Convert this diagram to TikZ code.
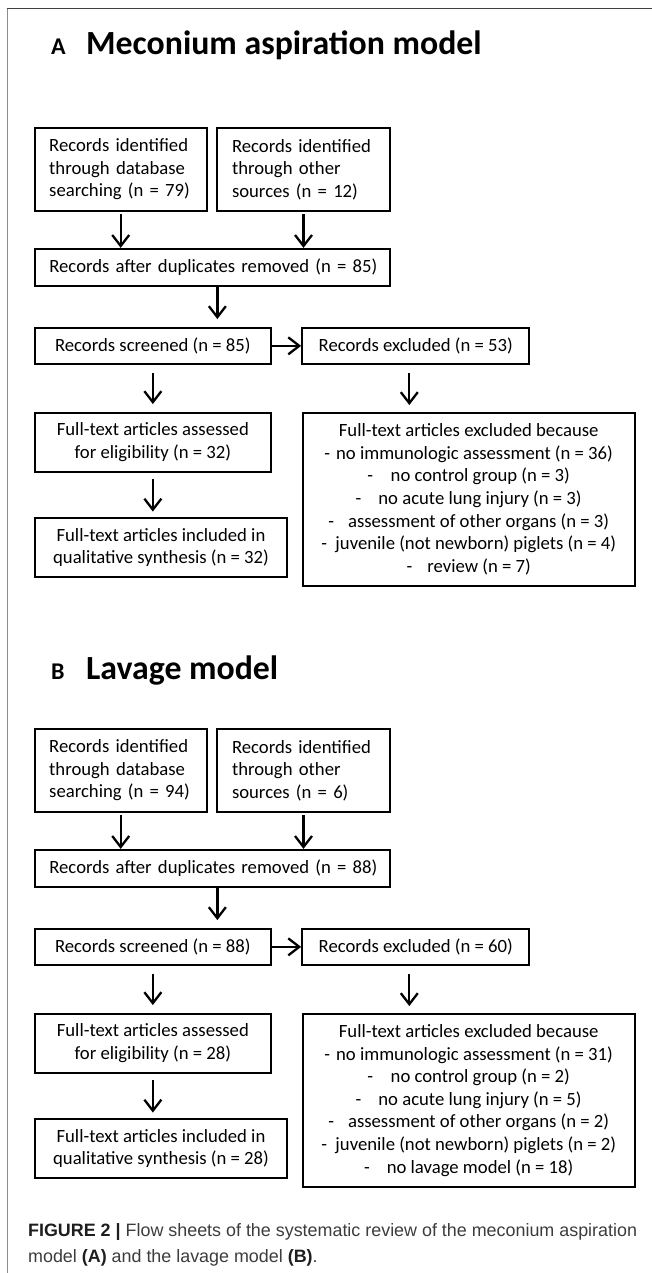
\documentclass[tikz,border=0pt]{standalone}
\usepackage{fontspec}
\setmainfont{Carlito}
\newfontfamily\capfont{Liberation Sans}
\usetikzlibrary{arrows.meta}
\usetikzlibrary{calc}

\definecolor{framegray}{HTML}{8C8C8C}
\definecolor{framedark}{HTML}{404040}
\definecolor{captext}{HTML}{3C3C3C}
\definecolor{capbold}{HTML}{1E1E1E}

\newcommand{\whyA}{Full-text articles excluded because\\
    -\hspace{6pt}no immunologic assessment (n = 36)\\
    -\hspace{17.5pt}no control group (n = 3)\\
    -\hspace{17pt}no acute lung injury (n = 3)\\
    -\hspace{14pt}assessment of other organs (n = 3)\\
    -\hspace{8.5pt}juvenile (not newborn) piglets (n = 4)\\
    -\hspace{15pt}review (n = 7)}
\newcommand{\whyB}{Full-text articles excluded because\\
    -\hspace{6pt}no immunologic assessment (n = 31)\\
    -\hspace{17.5pt}no control group (n = 2)\\
    -\hspace{17pt}no acute lung injury (n = 5)\\
    -\hspace{14pt}assessment of other organs (n = 2)\\
    -\hspace{8.5pt}juvenile (not newborn) piglets (n = 2)\\
    -\hspace{17pt}no lavage model (n = 18)}

\begin{document}
\begin{tikzpicture}[x=1pt, y=-1pt, line width=2.3pt,
    box/.style={draw, inner sep=0pt, font=\fontsize{18.7}{22.6}\selectfont},
    arr/.style={-{Straight Barb[length=11pt, width=17pt]}}]

    \useasboundingbox (0,0) rectangle (652,1273);

    % frame of the figure
    \draw[line width=1.5pt, framedark] (7,8.5) -- (652,8.5);
    \draw[line width=1.5pt, framegray] (7.5,9) -- (7.5,1273);

    \foreach \P/\DY/\TY/\TITLE/\nDb/\nOther/\nDup/\nExc/\nFull/\WHY in
        {A/0/55/Meconium aspiration model/79/12/85/53/32/\whyA,
         B/601/78/Lavage model/94/6/88/60/28/\whyB}{
    \begin{scope}[yshift=-\DY pt]

        \node[anchor=base west, inner sep=0pt, font=\bfseries\fontsize{24}{28}\selectfont] (lbl\P) at (50,\TY) {\P};
        \node[anchor=base west, inner sep=0pt, font=\bfseries\fontsize{33.8}{40}\selectfont] (title\P) at (85,\TY) {\TITLE};

        \node[box, minimum width=172pt, minimum height=82.4pt, text width=143pt, align=left] (db\P) at (120.7,169.5)
            {Records identified\\ through database\\ searching (n = \nDb)};
        \node[box, minimum width=173pt, minimum height=82.4pt, text width=143pt, align=left] (other\P) at (303.5,169.5)
            {Records identified\\ through other\\ sources (n = \nOther)};
        \node[box, minimum width=355.3pt, minimum height=36.7pt, text width=326pt, align=left] (dup\P) at (212.35,267.35)
            {\mbox{Records after duplicates removed (n = \nDup)}};
        \node[box, minimum width=236.3pt, minimum height=36.3pt] (scr\P) at (152.85,345.85)
            {Records screened (n = \nDup)};
        \node[box, minimum width=227pt, minimum height=36.3pt] (exc\P) at (415.8,345.85)
            {Records excluded (n = \nExc)};
        \node[box, minimum width=236.3pt, minimum height=59pt, align=center] (full\P) at (152.85,442.2)
            {Full-text articles assessed\\ for eligibility (n = \nFull)};
        \node[box, minimum width=252.6pt, minimum height=59.6pt, align=center] (incl\P) at (161,547.5)
            {Full-text articles included in\\ qualitative synthesis (n = \nFull)};
        \node[box, minimum width=332pt, minimum height=173.3pt, align=center] (why\P) at (468.7,499.35) {\WHY};

        \coordinate (split\P) at ([xshift=5pt]dup\P.south);
        \coordinate (cut\P) at ([xshift=-6.5pt]exc\P.south);

        \draw[arr, shorten <=2.5pt] (db\P.south) -- (db\P.south |- dup\P.north);
        \draw[arr, shorten <=2.5pt] (other\P.south) -- (other\P.south |- dup\P.north);
        \draw[arr, shorten >=7.5pt] (split\P) -- (split\P |- scr\P.north);
        \draw[arr] (scr\P.east) -- (exc\P.west);
        \draw[arr, shorten <=7.5pt, shorten >=7.5pt] (scr\P.south) -- (full\P.north);
        \draw[arr, shorten <=8pt, shorten >=6.5pt] (cut\P) -- (cut\P |- why\P.north);
        \draw[arr, shorten <=6pt, shorten >=5pt] (full\P.south) -- (full\P.south |- incl\P.north);

    \end{scope}}

    % caption
    \node[anchor=base west, inner sep=0pt, font=\capfont\fontsize{17.9}{26}\selectfont, text=captext] (capI) at (27,1236)
        {\textbf{\color{capbold}FIGURE 2 |} Flow sheets of the systematic review of the meconium aspiration};
    \node[anchor=base west, inner sep=0pt, font=\capfont\fontsize{17.9}{26}\selectfont, text=captext] (capII) at (27,1262)
        {model \textbf{\color{capbold}(A)} and the lavage model \textbf{\color{capbold}(B)}.};

\end{tikzpicture}
\end{document}
